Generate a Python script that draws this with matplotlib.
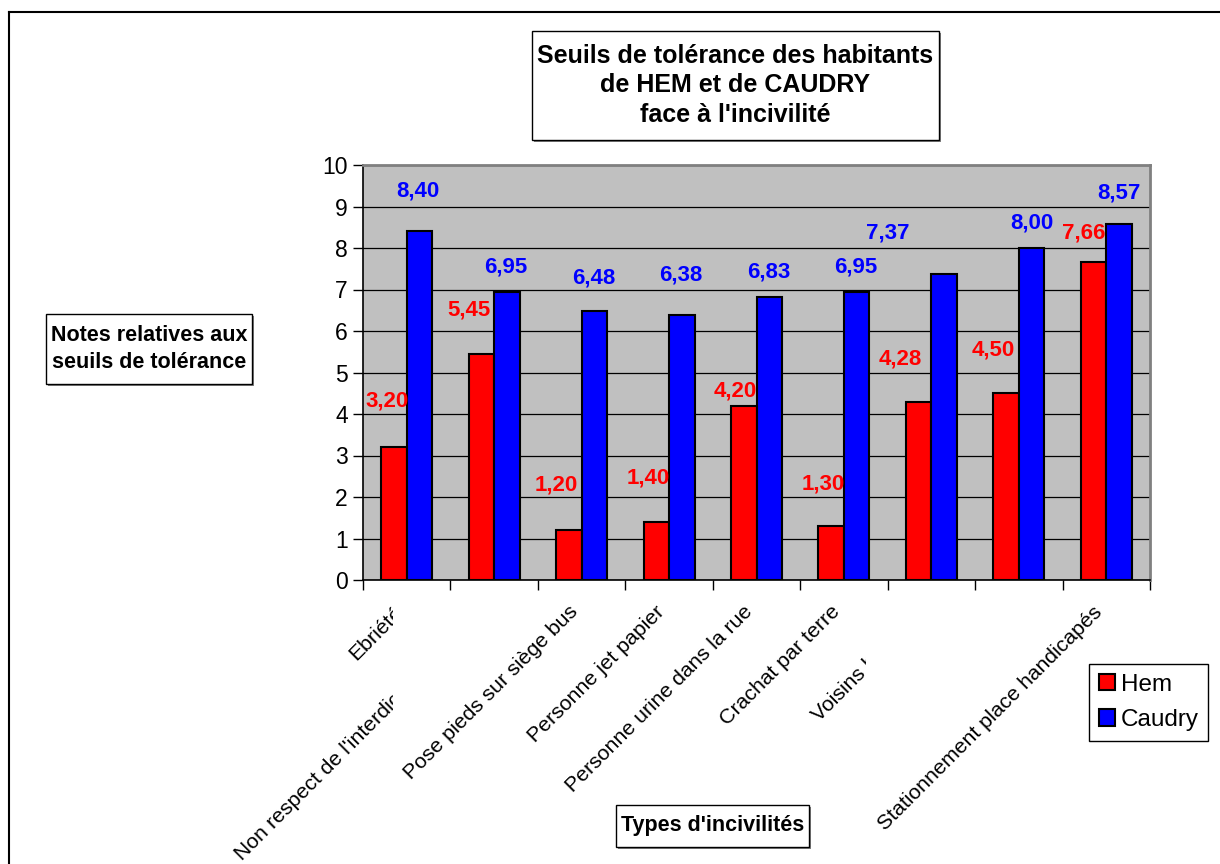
import numpy as np
import matplotlib
matplotlib.use("Agg")
import matplotlib.pyplot as plt
from matplotlib.patches import Rectangle, Patch
from matplotlib.lines import Line2D
from matplotlib.transforms import (blended_transform_factory, ScaledTranslation,
                                   Bbox, TransformedBbox)

plt.rcParams["font.family"] = ["Liberation Sans", "DejaVu Sans"]

# ---- data -------------------------------------------------------------
categories = [
    "Ebriété",
    "Non respect de l'interdiction de fumer",
    "Pose pieds sur siège bus",
    "Personne jet papier",
    "Personne urine dans la rue",
    "Crachat par terre",
    "Voisins bruyants",
    "",
    "Stationnement place handicapés",
]
hem = [3.20, 5.45, 1.20, 1.40, 4.20, 1.30, 4.28, 4.50, 7.66]
caudry = [8.40, 6.95, 6.48, 6.38, 6.83, 6.95, 7.37, 8.00, 8.57]
series_names = ["Hem", "Caudry"]
yticks = list(range(0, 11))

title = "Seuils de tolérance des habitants\nde HEM et de CAUDRY\nface à l'incivilité"
ylabel = "Notes relatives aux\nseuils de tolérance"
xlabel = "Types d'incivilités"

# ---- layout (pixels) ---------------------------------------------------
W, H = 1220, 864
def fx(px):
    return px / W
def fy(py):
    return 1 - py / H

# value-label offsets from each bar top (pixels: right, up)
hem_dx = [-6.5, -12.9, -12.8, -8.2, -8.6, -8.0, -18.4, -12.8, -10.2]
hem_dy = [46.2, 43.8, 45.2, 43.9, 14.7, 42.0, 43.4, 43.3, 29.0]
cau_dx = [-1.5, -0.9, -0.3, -0.7, -0.1, -0.5, -56.9, 0.2, 0.3]
cau_dy = [40.4, 24.6, 33.1, 40.2, 24.6, 24.6, 41.1, 25.0, 31.3]

# right-hand clipping of some category labels (data x)
label_clip = [-0.157, -0.157, None, None, None, None, 5.255, None, None]

red, blue, plot_bg = "#FF0000", "#0000FF", "#C0C0C0"

fig = plt.figure(figsize=(W / 100, H / 100), dpi=100)
fig.patch.set_facecolor("white")

# outer frame (top and left edges)
fig.add_artist(Line2D([fx(9), fx(9)], [0, fy(12)], color="black", lw=1.5,
                      transform=fig.transFigure))
fig.add_artist(Line2D([fx(9), 1.0], [fy(12), fy(12)], color="black", lw=1.5,
                      transform=fig.transFigure))

ax = fig.add_axes([fx(363), fy(580), (1150 - 363) / W, (580 - 165) / H])
ax.set_facecolor(plot_bg)
ax.set_xlim(-0.5, len(categories) - 0.5)
ax.set_ylim(0, 10)

x = np.arange(len(categories))
bw = 0.292
ax.bar(x - bw / 2, hem, bw, color=red, edgecolor="black", linewidth=1.5, zorder=3)
ax.bar(x + bw / 2, caudry, bw, color=blue, edgecolor="black", linewidth=1.5, zorder=3)

# gridlines and axes
ax.set_yticks(yticks)
ax.yaxis.grid(True, color="black", linewidth=0.9)
ax.set_axisbelow(True)
ax.set_xticks(np.arange(-0.5, len(categories), 1.0))
ax.set_xticklabels([])
ax.tick_params(axis="x", length=7, width=1, direction="out")
ax.tick_params(axis="y", length=7, width=1, direction="out", labelsize=16.5, pad=4)
for side in ("left", "bottom"):
    ax.spines[side].set_color("black")
    ax.spines[side].set_linewidth(1.2)
for side in ("top", "right"):
    ax.spines[side].set_color("#808080")
    ax.spines[side].set_linewidth(2)

# value labels
for i, v in enumerate(hem):
    ax.annotate(f"{v:.2f}".replace(".", ","), xy=(x[i] - bw / 2, v),
                xytext=(hem_dx[i] * 0.72, hem_dy[i] * 0.72), textcoords="offset points",
                ha="center", va="center", color=red, fontsize=16,
                fontweight="bold", annotation_clip=False, zorder=5)
for i, v in enumerate(caudry):
    ax.annotate(f"{v:.2f}".replace(".", ","), xy=(x[i] + bw / 2, v),
                xytext=(cau_dx[i] * 0.72, cau_dy[i] * 0.72), textcoords="offset points",
                ha="center", va="center", color=blue, fontsize=16,
                fontweight="bold", annotation_clip=False, zorder=5)

# rotated category labels
base = blended_transform_factory(ax.transData, ax.transAxes)
clip_tr = blended_transform_factory(ax.transData, fig.transFigure)
for i, name in enumerate(categories):
    if not name:
        continue
    tr = base + ScaledTranslation(-7 / 100, -29 / 100, fig.dpi_scale_trans)
    t = fig.text(x[i], 0, name, transform=tr, rotation=45, rotation_mode="anchor",
                 ha="right", va="center", fontsize=15.3)
    if label_clip[i] is not None:
        t.set_clip_box(TransformedBbox(Bbox([[-10, 0], [label_clip[i], 1]]), clip_tr))
        t.set_clip_on(True)

# boxed texts
def boxed(left, top, right, bottom, text, size, spacing):
    shadow = Rectangle((fx(left + 2), fy(bottom + 2)), (right - left) / W,
                       (bottom - top) / H, transform=fig.transFigure,
                       facecolor="#808080", edgecolor="none", zorder=1)
    box = Rectangle((fx(left), fy(bottom)), (right - left) / W, (bottom - top) / H,
                    transform=fig.transFigure, facecolor="white",
                    edgecolor="black", linewidth=1, zorder=2)
    fig.add_artist(shadow)
    fig.add_artist(box)
    fig.text(fx((left + right) / 2), fy((top + bottom) / 2), text, ha="center",
             va="center", fontsize=size, fontweight="bold", linespacing=spacing,
             zorder=3)

boxed(532, 31, 939, 140, title, 18, 1.3)
boxed(46, 314, 252, 384, ylabel, 15.5, 1.4)
boxed(616, 805, 809, 847, xlabel, 15.5, 1.0)

# legend
handles = [Patch(facecolor=red, edgecolor="black", linewidth=1.5, label=series_names[0]),
           Patch(facecolor=blue, edgecolor="black", linewidth=1.5, label=series_names[1])]
leg = fig.legend(handles=handles, loc="upper left",
                 bbox_to_anchor=(fx(1089), fy(664)), bbox_transform=fig.transFigure,
                 frameon=True, fancybox=False, edgecolor="black", framealpha=1,
                 fontsize=17.5, handlelength=0.65, handleheight=0.65,
                 handletextpad=0.25, borderpad=0.4, labelspacing=0.55,
                 borderaxespad=0)
leg.get_frame().set_linewidth(1)

fig.savefig("out.png", dpi=100)
